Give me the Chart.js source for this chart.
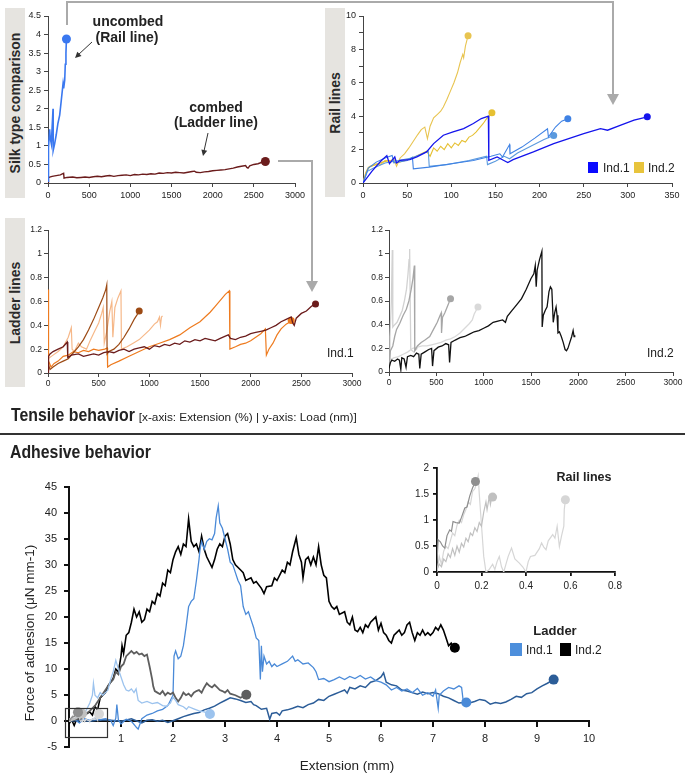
<!DOCTYPE html>
<html>
<head>
<meta charset="utf-8">
<script src="https://cdn.jsdelivr.net/npm/chart.js@4.4.1/dist/chart.umd.min.js"></script>
<style>
  body { margin: 0; width: 685px; height: 774px; position: relative; overflow: hidden; background: #fff;
         font-family: "Liberation Sans", Arial, sans-serif; color: #222; }
  canvas, .c, .lft, .box, .sq, svg { position: absolute; }
  .c { white-space: nowrap; transform: translate(-50%, -50%); }
  .lft { white-space: nowrap; transform: translateY(-50%); }
  .b { font-weight: bold; }
  .box { background: #e6e4e0; }
  .box span { position: absolute; left: 50%; top: 50%; transform: translate(-50%, -50%) rotate(-90deg);
              font-weight: bold; font-size: 14px; white-space: nowrap; color: #2a2a2a; }
  .head { font-size: 18px; font-weight: bold; display: inline-block; transform: scaleX(0.88); transform-origin: left center; }
</style>
</head>
<body>
<div class="box" style="left:5px;top:8px;width:20px;height:190px"><span>Silk type comparison</span></div>
<div class="box" style="left:325px;top:8px;width:20px;height:189px"><span>Rail lines</span></div>
<div class="box" style="left:5px;top:218px;width:20px;height:169px"><span>Ladder lines</span></div>

<script>
// ---------- tensile tick values ----------
const extTicks = [0, 500, 1000, 1500, 2000, 2500, 3000];
const silkLoadTicks = [0, 0.5, 1, 1.5, 2, 2.5, 3, 3.5, 4, 4.5];
const railExtTicks = [0, 50, 100, 150, 200, 250, 300, 350];
const railLoadTicks = [0, 1, 2, 3, 4, 5, 6, 7, 8, 9, 10];
const railLoadLabels = [0, 2, 4, 6, 8, 10];
const ladderLoadTicks = [0, 0.2, 0.4, 0.6, 0.8, 1, 1.2];

// ---------- tensile series [extension %, load] ----------
const railCompare = [[0,0.05],[2,0.78],[10,0.95],[20,1.45],[28,1.2],[41,1.05],[50,1.5],[61,2.0],[63,0.88],[80,1.05],[100,1.3],[120,1.6],[142,1.83],[160,2.2],[183,2.68],[190,2.55],[203,2.77],[210,3.2],[218,3.5],[224,3.88]];

const ladMaroon = [[0,0],[5,0.14],[20,0.16],[50,0.18],[100,0.2],[150,0.22],[180,0.25],[190,0.26],[195,0.13],[230,0.15],[300,0.16],[350,0.14],[400,0.15],[450,0.16],[500,0.15],[550,0.17],[600,0.18],[650,0.17],[700,0.19],[750,0.2],[800,0.18],[850,0.2],[900,0.21],[950,0.22],[1000,0.2],[1050,0.23],[1100,0.22],[1150,0.24],[1200,0.23],[1250,0.25],[1300,0.24],[1350,0.27],[1400,0.26],[1450,0.28],[1500,0.27],[1550,0.29],[1600,0.28],[1650,0.27],[1700,0.29],[1750,0.31],[1780,0.32],[1800,0.29],[1850,0.28],[1900,0.3],[1950,0.31],[2000,0.33],[2050,0.34],[2100,0.35],[2150,0.36],[2200,0.38],[2250,0.4],[2300,0.43],[2350,0.45],[2400,0.47],[2415,0.42],[2430,0.4],[2450,0.46],[2500,0.5],[2550,0.52],[2600,0.56],[2640,0.58]];
const ladOrange = [[0,0.05],[3,0.7],[8,0.1],[30,0.05],[60,0.08],[100,0.1],[150,0.14],[200,0.15],[250,0.18],[300,0.17],[350,0.19],[400,0.18],[450,0.2],[500,0.19],[560,0.2],[585,0.21],[588,0.05],[620,0.07],[700,0.1],[800,0.14],[900,0.18],[1000,0.22],[1100,0.25],[1200,0.28],[1300,0.32],[1400,0.38],[1500,0.43],[1600,0.51],[1650,0.56],[1700,0.61],[1750,0.66],[1790,0.69],[1795,0.2],[1850,0.22],[1900,0.24],[1950,0.25],[2000,0.27],[2050,0.3],[2100,0.33],[2145,0.37],[2155,0.15],[2180,0.2],[2220,0.25],[2260,0.32],[2300,0.37],[2350,0.41],[2390,0.43],[2400,0.44]];
const ladBrown = [[0,0.08],[20,0.03],[50,0.05],[100,0.08],[150,0.1],[200,0.12],[250,0.17],[300,0.22],[350,0.28],[400,0.36],[450,0.45],[500,0.55],[540,0.63],[570,0.7],[580,0.74],[583,0.16],[600,0.18],[650,0.2],[700,0.24],[750,0.3],[800,0.37],[850,0.45],[880,0.49],[900,0.52]];
const ladPeach = [[0,0.12],[50,0.15],[100,0.18],[150,0.22],[200,0.3],[230,0.38],[238,0.2],[260,0.18],[300,0.25],[330,0.22],[380,0.2],[420,0.28],[460,0.35],[500,0.42],[530,0.5],[545,0.55],[555,0.25],[580,0.35],[610,0.52],[630,0.6],[640,0.3],[660,0.55],[690,0.63],[720,0.69],[725,0.2],[780,0.22],[840,0.25],[900,0.28],[950,0.32],[1000,0.36],[1050,0.41],[1080,0.43],[1100,0.47],[1110,0.4],[1120,0.47],[1130,0.48]];

const ladBlack = [[0,0.03],[15,0.08],[30,0.1],[60,0.09],[90,0.11],[110,0.1],[125,0.02],[135,0.12],[160,0.11],[180,0.04],[195,0.13],[230,0.14],[260,0.13],[290,0.16],[315,0.15],[325,0.03],[340,0.15],[380,0.17],[420,0.19],[450,0.2],[460,0.05],[475,0.18],[520,0.21],[560,0.22],[600,0.24],[630,0.23],[640,0.08],[655,0.25],[700,0.27],[750,0.29],[800,0.3],[850,0.32],[900,0.34],[950,0.35],[1000,0.37],[1050,0.39],[1100,0.42],[1150,0.43],[1200,0.44],[1230,0.42],[1250,0.47],[1300,0.52],[1350,0.57],[1400,0.62],[1450,0.7],[1500,0.79],[1530,0.83],[1545,0.9],[1555,0.72],[1565,0.86],[1590,0.95],[1615,1.02],[1618,0.38],[1630,0.48],[1650,0.52],[1670,0.55],[1690,0.68],[1705,0.72],[1720,0.7],[1735,0.42],[1750,0.5],[1765,0.55],[1775,0.48],[1785,0.33],[1800,0.34],[1820,0.3],[1840,0.25],[1860,0.19],[1875,0.18],[1890,0.2],[1910,0.25],[1930,0.3],[1945,0.35],[1955,0.3],[1962,0.31]];
const ladGray = [[0,0.05],[15,0.18],[40,0.22],[60,0.3],[80,0.36],[113,0.41],[150,0.48],[183,0.53],[210,0.6],[235,0.7],[253,0.79],[268,0.9],[272,0.18],[300,0.22],[340,0.25],[380,0.27],[430,0.3],[470,0.36],[510,0.42],[540,0.48],[552,0.5],[555,0.33],[565,0.46],[590,0.5],[620,0.56],[650,0.62]];
const ladLightA = [[0,0.1],[10,0.3],[25,0.6],[35,1.03],[40,0.38],[60,0.4],[85,0.42],[113,0.47],[140,0.52],[165,0.61],[185,0.7],[201,0.83],[212,0.95],[218,1.04],[230,0.19],[260,0.17],[300,0.2]];
const ladLightB = [[0,0.1],[50,0.12],[100,0.13],[150,0.15],[200,0.17],[250,0.2],[300,0.21],[350,0.22],[400,0.22],[450,0.23],[500,0.24],[550,0.25],[600,0.27],[650,0.28],[700,0.3],[750,0.33],[800,0.37],[850,0.41],[880,0.44],[900,0.49],[920,0.52],[940,0.55]];

const railInd1A = [[0,0],[10,0.7],[20,1.3],[27,1.64],[30,1.16],[36,1.56],[38,1.2],[42,1.36],[53,1.4],[61,1.56],[72,1.86],[80,2.36],[91,2.86],[102,3.06],[114,3.26],[125,3.56],[134,3.86],[142,4.0],[142.5,1.36],[152,1.56],[159,1.36],[164,1.22],[170,1.4],[193,1.86],[216,2.36],[250,2.96],[269,3.26],[277,3.16],[292,3.46],[307,3.76],[314,3.86],[322,3.96]];
const railInd1B = [[0,0],[6,0.9],[15,1.25],[25,1.5],[33,1.65],[35,1.2],[50,1.35],[56,1.55],[57,0.85],[75,0.95],[100,1.15],[125,1.35],[145,1.6],[155,1.75],[158,1.55],[166,2.3],[166.5,1.75],[180,2.15],[195,2.7],[209,3.25],[210,2.75],[218,3.35],[225,3.7],[232,3.85]];
const railInd1C = [[0,0],[5,0.7],[12,0.9],[25,1.2],[40,1.35],[55,1.5],[74,1.9],[75,1.0],[95,1.1],[120,1.35],[140,1.6],[141,1.1],[150,1.3],[160,1.6],[166,1.45],[175,1.8],[190,2.2],[205,2.6],[216,2.85]];
const railInd2A = [[0,0],[3,0.6],[6,0.95],[10,1.0],[15,1.15],[20,1.1],[25,1.35],[30,1.3],[35,1.45],[38,1.0],[42,1.5],[47,1.75],[52,2.1],[57,2.5],[62,2.9],[66,3.2],[70,3.35],[73,2.65],[76,3.4],[80,3.9],[84,4.1],[88,4.3],[91,4.55],[95,5.0],[99,5.5],[103,6.0],[107,6.6],[110,7.2],[113,7.7],[114,7.5],[116,8.2],[119,8.82]];
const railInd2B = [[0,0],[4,0.7],[8,1.0],[15,1.1],[22,1.25],[30,1.35],[38,1.2],[48,1.35],[60,1.6],[72,1.9],[76,1.6],[80,2.1],[84,1.9],[88,2.2],[92,2.0],[96,2.35],[100,2.1],[104,2.4],[108,2.25],[112,2.55],[116,2.45],[120,2.75],[124,2.85],[128,3.05],[132,3.3],[136,3.55],[140,3.85],[143,4.0],[146,4.2]];

// ---------- adhesive tick values ----------
const adhExtTicks = [0, 1, 2, 3, 4, 5, 6, 7, 8, 9, 10];
const adhExtLabels = [1, 2, 3, 4, 5, 6, 7, 8, 9, 10];
const adhForceTicks = [-5, 0, 5, 10, 15, 20, 25, 30, 35, 40, 45];
const insetExtTicks = [0, 0.2, 0.4, 0.6, 0.8];
const insetForceTicks = [0, 0.5, 1, 1.5, 2];

// ---------- adhesive series [extension mm, force uN/mm] ----------
const adhBlack = [[0,-0.5],[0.05,0.3],[0.1,-0.8],[0.15,0.5],[0.2,0.2],[0.3,1.2],[0.4,1.8],[0.45,1.2],[0.5,2.8],[0.55,2.2],[0.6,4.5],[0.7,5.5],[0.75,6.8],[0.8,7.5],[0.85,8.2],[0.9,10],[0.95,9.5],[1.0,12.5],[1.02,14.5],[1.05,13],[1.1,16.5],[1.15,17],[1.2,19],[1.25,21.5],[1.3,20],[1.35,21],[1.4,19],[1.45,19.5],[1.5,21.5],[1.55,21],[1.6,23],[1.65,22.5],[1.7,24.5],[1.75,24],[1.8,26.5],[1.85,26],[1.9,29],[1.95,28.5],[2.0,31],[2.05,32.5],[2.1,33.5],[2.15,32],[2.2,34],[2.25,33.5],[2.3,38.8],[2.35,34.5],[2.4,33.5],[2.45,34],[2.5,32.5],[2.55,35.5],[2.6,33],[2.65,31.5],[2.7,30.5],[2.75,29.5],[2.8,31],[2.85,33],[2.9,34],[2.95,33.5],[3.0,35.5],[3.05,36],[3.1,34],[3.15,31],[3.2,30],[3.3,29],[3.35,28.5],[3.4,27],[3.5,27.5],[3.55,26.5],[3.6,26.8],[3.7,25.5],[3.75,24.5],[3.8,25.8],[3.9,26],[3.95,27.5],[4.0,27],[4.1,29],[4.15,28.5],[4.2,30.5],[4.25,30],[4.3,32.5],[4.37,35.2],[4.42,32],[4.47,30.5],[4.5,27.5],[4.55,31],[4.6,31.5],[4.65,30],[4.7,31.5],[4.75,30],[4.8,33.5],[4.85,30],[4.9,28],[4.95,27.5],[5.0,23],[5.05,22],[5.1,21.5],[5.15,22],[5.2,20.5],[5.3,21],[5.35,19],[5.4,18.5],[5.45,20],[5.5,17.5],[5.55,17.2],[5.6,18],[5.65,17],[5.7,18.5],[5.75,18],[5.8,19],[5.85,19.5],[5.9,20],[5.95,17.5],[6.0,18.8],[6.05,17],[6.1,16.5],[6.15,15.5],[6.2,15],[6.25,16.5],[6.3,17],[6.35,17.5],[6.4,16.5],[6.45,17],[6.5,18.5],[6.55,19],[6.6,17],[6.65,15.5],[6.7,17],[6.75,16.5],[6.8,17.5],[6.85,16.5],[6.9,17],[6.95,16.5],[7.0,17],[7.05,18],[7.1,17.5],[7.15,18.5],[7.2,17.5],[7.25,16],[7.3,14.5],[7.35,15],[7.4,13.8],[7.42,14.1]];
const adhGray = [[0,0],[0.1,0.3],[0.2,0.5],[0.3,1.2],[0.4,2],[0.5,3],[0.6,4.5],[0.7,6],[0.8,7.5],[0.85,8],[0.9,9.5],[0.95,9],[1.0,10.5],[1.05,11],[1.1,12.5],[1.15,13],[1.2,13.5],[1.25,13],[1.3,13.3],[1.35,12.8],[1.4,13],[1.45,12.5],[1.5,12.8],[1.55,10.5],[1.6,8],[1.62,6.7],[1.65,5.8],[1.7,5.5],[1.75,5.2],[1.8,5.8],[1.85,5],[1.9,5.5],[1.95,5.2],[2.0,5.5],[2.05,4.5],[2.1,3.8],[2.15,4.5],[2.2,5.5],[2.25,5],[2.3,5.3],[2.35,4.8],[2.4,5.5],[2.45,5.8],[2.5,6],[2.55,5.5],[2.6,6.5],[2.65,7.3],[2.7,6.8],[2.75,6.5],[2.8,7],[2.85,6.5],[2.9,6],[2.95,5.8],[3.0,5.5],[3.05,6],[3.1,5.3],[3.2,5],[3.3,4.5],[3.41,5.1]];
const adhBlue = [[0,0],[0.1,0.4],[0.2,-0.3],[0.3,0.5],[0.4,0.2],[0.5,0.6],[0.6,0.3],[0.7,0.5],[0.8,0.2],[0.85,-0.8],[0.9,0.6],[0.92,3.2],[0.95,0.3],[1.0,-0.5],[1.1,0.4],[1.2,0],[1.3,-1.2],[1.33,-1.5],[1.4,0.5],[1.5,1.2],[1.6,1.5],[1.7,2],[1.8,2.3],[1.9,3],[1.95,4],[2.0,5],[2.02,12.5],[2.05,13.5],[2.1,12],[2.15,12.5],[2.2,14.5],[2.25,18],[2.3,22],[2.35,23],[2.4,23.5],[2.45,27],[2.5,31],[2.52,33],[2.55,34.5],[2.6,33],[2.65,34.5],[2.7,35],[2.75,34.8],[2.8,36],[2.83,39],[2.87,41.3],[2.9,38],[2.95,37],[3.0,35],[3.05,33],[3.1,30.5],[3.15,30],[3.2,28.5],[3.25,27],[3.3,26],[3.35,22],[3.4,20.5],[3.45,21],[3.5,19.5],[3.55,18],[3.6,16],[3.65,15.5],[3.68,8],[3.7,14.5],[3.72,9.5],[3.75,12.5],[3.8,11],[3.85,11.5],[3.9,10.5],[3.95,11],[4.0,10.5],[4.1,11],[4.2,11.5],[4.3,12.5],[4.35,11.5],[4.4,11.8],[4.5,11],[4.6,11.2],[4.7,10.3],[4.75,9.5],[4.8,8],[4.9,8.2],[5.0,7.6],[5.1,8],[5.2,8.5],[5.3,8],[5.4,8.6],[5.5,8.2],[5.6,8.8],[5.7,8.1],[5.8,8.5],[5.9,7.8],[6.0,7.5],[6.1,7],[6.2,6],[6.3,6.5],[6.4,5.8],[6.5,6.2],[6.6,5.5],[6.7,6.3],[6.8,5],[6.9,5.5],[7.0,4.8],[7.05,6],[7.1,2.5],[7.12,5],[7.2,5.8],[7.3,6.5],[7.4,6.2],[7.5,6.8],[7.55,6.5],[7.58,4],[7.64,3.6]];
const adhBlueLight = [[0,0],[0.1,0.5],[0.2,1],[0.3,1.5],[0.35,2.5],[0.4,3.5],[0.45,5],[0.47,7.3],[0.5,5],[0.55,4.5],[0.6,5.5],[0.65,5],[0.7,5.5],[0.75,6],[0.8,8],[0.85,9.5],[0.9,11.7],[0.95,10],[1.0,8.5],[1.05,7],[1.1,6],[1.15,5.8],[1.2,6.2],[1.25,5.5],[1.29,6.2],[1.33,4],[1.4,3.5],[1.5,3.8],[1.6,3.4],[1.7,3.6],[1.8,3],[1.87,2.9],[1.95,3.5],[2.0,4.6],[2.05,4],[2.1,3.2],[2.2,2.8],[2.26,2.3],[2.3,2.8],[2.4,2.4],[2.5,2],[2.6,1.8],[2.71,1.4]];
const adhBlueDark = [[0,0],[0.2,0.2],[0.4,0],[0.6,0.3],[0.8,0.2],[1.0,0],[1.2,0.5],[1.4,-0.3],[1.5,0.2],[1.6,0.3],[1.7,0],[1.8,0.2],[1.9,-0.2],[2.0,0.1],[2.1,0.5],[2.2,0.9],[2.3,1.2],[2.4,1.5],[2.5,1.7],[2.6,2.2],[2.7,2.5],[2.8,2.9],[2.9,3.5],[3.0,4],[3.1,4.5],[3.2,4.3],[3.3,4],[3.4,3.6],[3.5,3.8],[3.55,3.2],[3.6,3],[3.7,2.3],[3.8,2.5],[3.86,0.4],[3.9,1.5],[3.99,1.7],[4.05,1.2],[4.1,2],[4.2,2.2],[4.3,2.5],[4.4,2.9],[4.5,2.6],[4.6,3.2],[4.7,3.5],[4.8,4.2],[4.9,4],[5.0,4.8],[5.1,5.2],[5.2,5.6],[5.3,6],[5.35,5.4],[5.4,6.5],[5.5,6.2],[5.6,6.8],[5.7,6.5],[5.8,7.5],[5.9,7.8],[6.0,8.5],[6.05,9.3],[6.1,7.5],[6.2,7],[6.3,6.8],[6.4,6],[6.5,5.8],[6.6,5.5],[6.7,5.2],[6.8,5.6],[6.9,5.3],[7.0,5.5],[7.1,5.3],[7.2,4.8],[7.3,4.5],[7.4,4],[7.5,3.5],[7.6,3.6],[7.7,3.5],[7.8,3.8],[7.9,4.2],[8.0,4],[8.1,3.3],[8.2,3.6],[8.3,3.4],[8.4,3.7],[8.5,4.2],[8.6,4.8],[8.7,4.6],[8.8,5.3],[8.9,5.5],[9.0,6.2],[9.1,6.8],[9.2,7.3],[9.32,8.0]];
const railAdh1 = [[0,0.2],[0.005,0.62],[0.015,0.58],[0.025,0.5],[0.035,0.46],[0.045,0.7],[0.057,0.81],[0.065,0.78],[0.072,0.97],[0.085,0.95],[0.1,0.94],[0.11,1.05],[0.125,1.23],[0.135,1.25],[0.147,1.46],[0.16,1.62],[0.173,1.74]];
const railAdh2 = [[0,0.05],[0.01,0.15],[0.02,0.1],[0.03,0.25],[0.04,0.2],[0.05,0.35],[0.06,0.28],[0.07,0.45],[0.08,0.32],[0.09,0.5],[0.1,0.38],[0.11,0.55],[0.12,0.48],[0.13,0.65],[0.14,0.58],[0.15,0.75],[0.16,0.7],[0.17,0.85],[0.18,0.78],[0.19,0.95],[0.2,0.88],[0.21,1.15],[0.22,1.35],[0.225,1.2],[0.235,1.45],[0.24,1.3],[0.245,1.42],[0.25,1.44]];
const railAdh3 = [[0,0],[0.01,0.3],[0.02,0.15],[0.03,0.4],[0.04,0.5],[0.05,0.45],[0.06,0.6],[0.07,0.75],[0.08,0.7],[0.09,0.9],[0.1,1.0],[0.11,0.95],[0.12,1.1],[0.13,1.2],[0.14,1.35],[0.15,1.3],[0.16,1.55],[0.17,1.6],[0.18,1.75],[0.185,1.85],[0.19,1.5],[0.2,0.9],[0.21,0.3],[0.22,0],[0.235,0.05],[0.25,0.15],[0.26,0.05],[0.27,0.2],[0.28,0.3],[0.29,0.1],[0.3,0],[0.31,0.15],[0.32,0.3],[0.335,0.46],[0.35,0.25],[0.37,0.17],[0.385,0.1],[0.4,0],[0.41,0.2],[0.42,0.3],[0.44,0.32],[0.46,0.45],[0.47,0.56],[0.48,0.48],[0.49,0.43],[0.5,0.6],[0.52,0.72],[0.53,0.65],[0.54,0.88],[0.55,0.49],[0.56,0.7],[0.57,0.88],[0.572,1.2],[0.577,1.39]];

Chart.defaults.font.family = '"Liberation Sans", Arial, sans-serif';
Chart.defaults.color = '#222';

// axis with a fixed tick list; only values in `labels` get text
function axis(ticks, labels, o) {
  const a = {
    type: 'linear', min: ticks[0], max: ticks[ticks.length - 1],
    afterBuildTicks: s => { s.ticks = ticks.map(v => ({ value: v })); },
    ticks: { autoSkip: false, maxRotation: 0, font: { size: o.fs }, padding: o.pad, color: '#222',
             callback: v => labels.includes(v) ? String(v) : '' },
    grid: { drawOnChartArea: false, drawTicks: true, tickLength: o.tl, color: o.c, lineWidth: o.lw },
    border: { color: o.c, width: o.lw }
  };
  if (o.pos) a.position = o.pos;
  return a;
}

function line(pts, color, w, dot) {
  return {
    data: pts.map(p => ({ x: p[0], y: p[1] })),
    borderColor: color, backgroundColor: color, pointBackgroundColor: color,
    borderWidth: w, tension: 0, fill: false, pointBorderWidth: 0, pointHoverRadius: 0,
    pointRadius: c => c.dataIndex === pts.length - 1 ? dot : 0
  };
}

// area = [left, top, right, bottom] of the plot area on the page
function panel(area, xAx, yAx, datasets, padB) {
  const padL = 40, padT = 12, padR = 24;
  const cv = document.createElement('canvas');
  cv.width = area[2] - area[0] + padL + padR;
  cv.height = area[3] - area[1] + padT + padB;
  cv.style.left = (area[0] - padL) + 'px';
  cv.style.top = (area[1] - padT) + 'px';
  document.body.appendChild(cv);
  yAx.afterFit = s => { s.width = padL; };
  if (!xAx.position) xAx.afterFit = s => { s.height = padB; };
  new Chart(cv, {
    type: 'line',
    data: { datasets },
    options: {
      responsive: false, animation: false, devicePixelRatio: 1, events: [],
      layout: { padding: { left: 0, top: padT, right: padR, bottom: xAx.position ? padB : 0 } },
      plugins: { legend: { display: false }, tooltip: { enabled: false } },
      scales: { x: xAx, y: yAx }
    }
  });
}

const small = { fs: 9, pad: 3, tl: 4, c: '#444', lw: 1 };
const smaller = { fs: 8.5, pad: 2, tl: 4, c: '#444', lw: 1 };

// silk type comparison
panel([48, 16, 295, 183], axis(extTicks, extTicks, small), axis(silkLoadTicks, silkLoadTicks, small), [
  line(railCompare, '#3a78f0', 1.6, 4.5),
  line(ladMaroon, '#6b1c1c', 1.4, 4.5)
], 22);

// rail lines
panel([363, 16, 672, 183], axis(railExtTicks, railExtTicks, small), axis(railLoadTicks, railLoadLabels, small), [
  line(railInd1A, '#1414ec', 1.3, 3.5),
  line(railInd1B, '#3f82e4', 1.1, 3.5),
  line(railInd1C, '#5b9ade', 1.1, 3.5),
  line(railInd2B, '#e6c032', 1.1, 3.5),
  line(railInd2A, '#e8c450', 1.1, 3.5)
], 22);

// ladder lines Ind.1
panel([48, 230, 352, 373], axis(extTicks, extTicks, smaller), axis(ladderLoadTicks, ladderLoadTicks, smaller), [
  line(ladMaroon, '#6b1c1c', 1.3, 3.5),
  line(ladBrown, '#9c4a14', 1.2, 3.5),
  line(ladOrange, '#ee7b1f', 1.2, 3.5),
  line(ladPeach, '#f6b889', 1.2, 0)
], 22);

// ladder lines Ind.2
panel([389, 230, 673, 372], axis(extTicks, extTicks, smaller), axis(ladderLoadTicks, ladderLoadTicks, smaller), [
  line(ladBlack, '#111111', 1.3, 0),
  line(ladGray, '#a6a6a6', 1.3, 3.5),
  line(ladLightB, '#d9d9d9', 1.3, 3.5),
  line(ladLightA, '#d2d2d2', 1.3, 0)
], 22);

// adhesive behaviour
const big = { fs: 11, pad: 6, tl: 5, c: '#111', lw: 2 };
const bigX = axis(adhExtTicks, adhExtLabels, Object.assign({}, big, { pos: { y: 0 } }));
const bigY = axis(adhForceTicks, adhForceTicks, Object.assign({}, big, { pad: 7 }));
panel([69, 485, 589, 753], bigX, bigY, [
  line(railAdh1, '#8f8f8f', 1.2, 5),
  line(railAdh2, '#c0c0c0', 1.2, 5),
  line(railAdh3, '#d6d6d6', 1.2, 5),
  line(adhBlueLight, '#9cc3ee', 1.3, 5),
  line(adhGray, '#5e5e5e', 1.8, 5),
  line(adhBlue, '#4a8ad8', 1.3, 5),
  line(adhBlueDark, '#2c5d98', 1.5, 5),
  line(adhBlack, '#000000', 1.6, 5)
], 8);

// inset: rail lines
const ins = { fs: 10, pad: 4, tl: 4, c: '#111', lw: 1.8 };
panel([437, 468, 615, 572], axis(insetExtTicks, insetExtTicks, ins), axis(insetForceTicks, insetForceTicks, ins), [
  line(railAdh1, '#8f8f8f', 1.2, 4.5),
  line(railAdh2, '#c0c0c0', 1.2, 4.5),
  line(railAdh3, '#d6d6d6', 1.2, 4.5)
], 22);
</script>

<svg style="left:0;top:0" width="685" height="774">
  <polyline points="67,25 67,2 613,2 613,96" fill="none" stroke="#aaaaaa" stroke-width="2"/>
  <polygon points="607,94 619,94 613,105" fill="#aaaaaa"/>
  <polyline points="278,161 312,161 312,283" fill="none" stroke="#aaaaaa" stroke-width="2"/>
  <polygon points="306,281 318,281 312,292" fill="#aaaaaa"/>
  <line x1="92" y1="42" x2="78" y2="55" stroke="#333" stroke-width="1"/>
  <polygon points="75,58 81.5,56.1 77.3,51.7" fill="#333"/>
  <line x1="208" y1="133" x2="204" y2="151" stroke="#333" stroke-width="1"/>
  <polygon points="203,156 207.2,150.7 201.4,149.5" fill="#333"/>
  <rect x="65.5" y="708.5" width="42" height="29" fill="none" stroke="#333" stroke-width="1.2"/>
  <rect x="0" y="433" width="685" height="2" fill="#333"/>
</svg>

<div class="c b" style="left:128px;top:21px;font-size:14px">uncombed</div>
<div class="c b" style="left:127px;top:37px;font-size:14px">(Rail line)</div>
<div class="c b" style="left:216px;top:107px;font-size:14px">combed</div>
<div class="c b" style="left:216px;top:122px;font-size:14px">(Ladder line)</div>

<div class="sq" style="left:588px;top:162px;width:10px;height:11px;background:#0a0aff"></div>
<div class="lft" style="left:603px;top:168px;font-size:12px">Ind.1</div>
<div class="sq" style="left:634px;top:162px;width:10px;height:11px;background:#e8c43c"></div>
<div class="lft" style="left:648px;top:168px;font-size:12px">Ind.2</div>

<div class="lft" style="left:327px;top:353px;font-size:12px">Ind.1</div>
<div class="lft" style="left:647px;top:353px;font-size:12px">Ind.2</div>

<div class="lft" style="left:11px;top:415px"><span class="head">Tensile behavior</span><span style="font-size:11.8px;margin-left:-13px">[x-axis: Extension (%) | y-axis: Load (nm)]</span></div>
<div class="lft" style="left:10px;top:452px"><span class="head">Adhesive behavior</span></div>

<div class="c" style="left:29px;top:633px;font-size:13.5px;transform:translate(-50%,-50%) rotate(-90deg)">Force of adhesion (μN mm-1)</div>
<div class="c" style="left:347px;top:765px;font-size:13.5px">Extension (mm)</div>

<div class="c b" style="left:584px;top:477px;font-size:12.5px">Rail lines</div>
<div class="c b" style="left:555px;top:630px;font-size:13px">Ladder</div>
<div class="sq" style="left:510px;top:643px;width:12px;height:13px;background:#4d8fdc"></div>
<div class="lft" style="left:526px;top:650px;font-size:12px">Ind.1</div>
<div class="sq" style="left:560px;top:643px;width:11px;height:13px;background:#000"></div>
<div class="lft" style="left:575px;top:650px;font-size:12px">Ind.2</div>
</body>
</html>
